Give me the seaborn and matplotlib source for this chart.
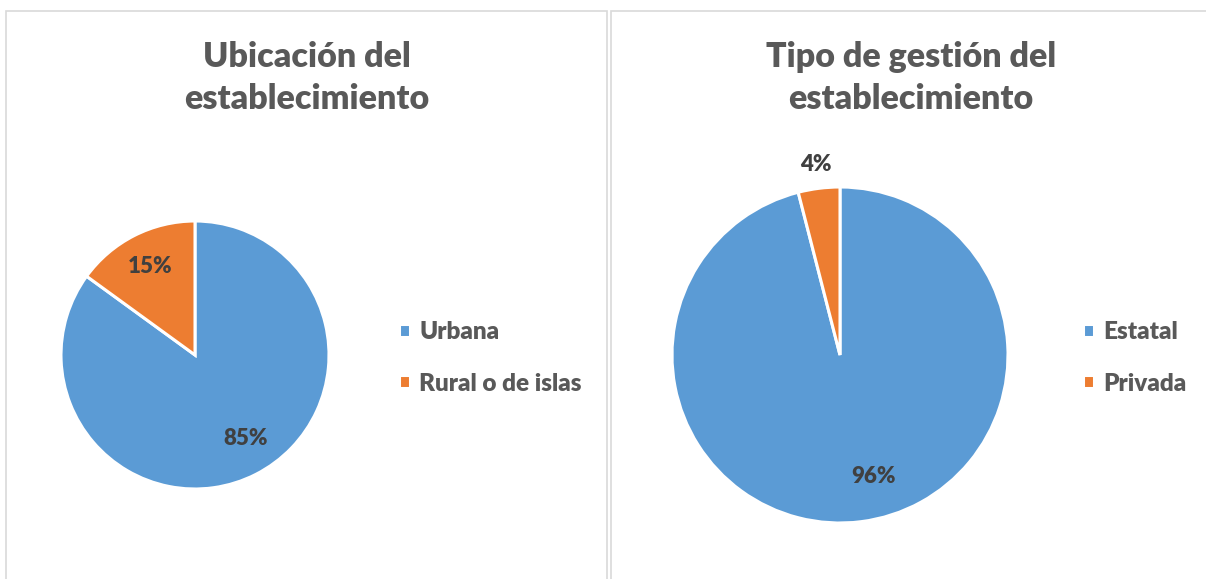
import matplotlib
matplotlib.use("Agg")
import matplotlib.pyplot as plt
import seaborn as sns
from matplotlib.patches import Rectangle
import numpy as np

sns.set_theme(style="white")
plt.rcParams['font.family'] = ['Lato', 'DejaVu Sans']

# datos
ubic_labels = ['Urbana', 'Rural o de islas']
ubic_values = [85, 15]
gest_labels = ['Estatal', 'Privada']
gest_values = [96, 4]

colors = ['#5B9BD5', '#ED7D31']
TITLE_C = '#595959'
LABEL_C = '#404040'

W, H = 1206, 579
fig = plt.figure(figsize=(W / 100, H / 100), dpi=100)
fig.patch.set_facecolor('white')

# marcos de cada gráfico
for x0, x1 in [(6, 607), (611, 1212)]:
    fig.patches.append(Rectangle((x0 / W, -0.1), (x1 - x0) / W, (H - 11) / H + 0.1,
                                 transform=fig.transFigure, fill=False,
                                 edgecolor='#D9D9D9', linewidth=1.2))


def draw_pie(cx, cy, r, values, labels, title, tx, legx, pct_dist, pct_shift):
    size = 2.5 * r
    ax = fig.add_axes([(cx - size / 2) / W, (H - cy - size / 2) / H, size / W, size / H])
    wedges, _ = ax.pie(values, colors=colors, startangle=90, counterclock=False,
                       wedgeprops=dict(edgecolor='white', linewidth=2.2))
    for w, v, d, s in zip(wedges, values, pct_dist, pct_shift):
        ang = np.deg2rad((w.theta1 + w.theta2) / 2 + s)
        ax.text(d * np.cos(ang), d * np.sin(ang), f'{v}%', ha='center', va='center',
                fontsize=16, fontweight='heavy', color=LABEL_C)
    fig.text(tx / W, (H - 78) / H, title, ha='center', va='center', fontsize=24.5,
             fontweight='heavy', color=TITLE_C, linespacing=1.4)
    ax.legend(wedges, labels, loc='center left', bbox_to_anchor=(legx / W, (H - 358) / H),
              bbox_transform=fig.transFigure, frameon=False, borderpad=0,
              borderaxespad=0, handlelength=0.45, handleheight=0.45,
              handletextpad=0.38, labelspacing=1.2,
              prop=dict(size=17.5, weight='heavy'), labelcolor=TITLE_C)
    return ax


draw_pie(195, 355, 134, ubic_values, ubic_labels, 'Ubicación del\nestablecimiento',
         307, 399, [0.73, 0.74], [4, 0])
draw_pie(840, 355, 168, gest_values, gest_labels, 'Tipo de gestión del\nestablecimiento',
         911, 1083, [0.75, 1.14], [8, 0])

fig.savefig('out.png', dpi=100)
